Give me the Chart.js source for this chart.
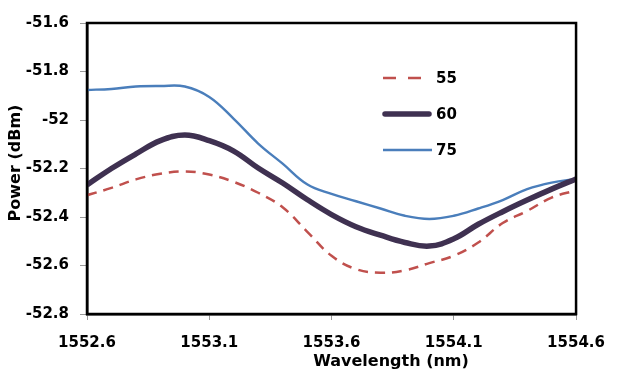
<!DOCTYPE html>
<html>
<head>
<meta charset="utf-8">
<script src="https://cdn.jsdelivr.net/npm/chart.js@4/dist/chart.umd.min.js"></script>
<style>
html,body{margin:0;padding:0;background:#fff;}
#wrap{width:619px;height:372px;position:relative;}
</style>
</head>
<body>
<div id="wrap"><canvas id="c" width="619" height="372"></canvas></div>
<script>
const wavelengths = [1552.6,1552.7,1552.8,1552.9,1553.0,1553.1,1553.2,1553.3,1553.4,1553.5,1553.6,1553.7,1553.8,1553.9,1554.0,1554.1,1554.2,1554.3,1554.4,1554.5,1554.6];
const power55 = [-52.31,-52.28,-52.245,-52.222,-52.212,-52.225,-52.255,-52.30,-52.36,-52.46,-52.56,-52.615,-52.63,-52.62,-52.59,-52.56,-52.505,-52.425,-52.375,-52.32,-52.29];
const power60 = [-52.268,-52.20,-52.14,-52.085,-52.062,-52.085,-52.128,-52.198,-52.26,-52.328,-52.39,-52.44,-52.475,-52.505,-52.52,-52.49,-52.43,-52.378,-52.33,-52.285,-52.243];
const power75 = [-51.876,-51.872,-51.862,-51.86,-51.862,-51.905,-51.995,-52.097,-52.18,-52.265,-52.305,-52.335,-52.365,-52.395,-52.408,-52.395,-52.365,-52.33,-52.285,-52.258,-52.243];
const seriesLabels = ['55','60','75'];
const xTicks = [1552.6,1553.1,1553.6,1554.1,1554.6];
const yTicks = [-51.6,-51.8,-52,-52.2,-52.4,-52.6,-52.8];
const xTitle = 'Wavelength (nm)';
const yTitle = 'Power (dBm)';

const FONT = '"DejaVu Sans", sans-serif';
const pts = arr => wavelengths.map((x,i)=>({x:x,y:arr[i]}));

const decor = {
  id:'decor',
  afterDraw(chart){
    const ctx = chart.ctx, a = chart.chartArea;
    ctx.save();
    ctx.strokeStyle = '#000';
    ctx.lineWidth = 2.5;
    ctx.strokeRect(a.left, a.top, a.right-a.left, a.bottom-a.top);
    // legend
    const ds = chart.data.datasets;
    const rows = [78,114,150];
    ds.forEach((d,i)=>{
      const y = rows[i];
      ctx.beginPath();
      ctx.strokeStyle = d.borderColor;
      ctx.lineWidth = d.borderWidth;
      ctx.setLineDash(i===0 ? [13,12] : []);
      ctx.lineCap = i===1 ? 'round':'butt';
      ctx.moveTo(i===1?385:383, y); ctx.lineTo(i===1?429:432, y);
      ctx.stroke();
      ctx.setLineDash([]);
      ctx.fillStyle = '#000';
      ctx.font = 'bold 15px ' + FONT;
      ctx.textAlign = 'left';
      ctx.textBaseline = 'middle';
      ctx.fillText(d.label, 436, y+1);
    });
    // axis titles
    ctx.fillStyle = '#000';
    ctx.font = 'bold 16px ' + FONT;
    ctx.textAlign = 'center';
    ctx.textBaseline = 'middle';
    ctx.fillText(xTitle, 391, 362);
    ctx.translate(16, 163);
    ctx.rotate(-Math.PI/2);
    ctx.fillText(yTitle, 0, 0);
    ctx.restore();
  }
};

new Chart(document.getElementById('c'), {
  type:'line',
  data:{
    datasets:[
      {label:seriesLabels[0], data:pts(power55), borderColor:'#C0504D', borderWidth:2.5, borderDash:[10,7], pointRadius:0, tension:0.4, fill:false},
      {label:seriesLabels[1], data:pts(power60), borderColor:'#3F3151', borderWidth:5.5, pointRadius:0, tension:0.4, fill:false},
      {label:seriesLabels[2], data:pts(power75), borderColor:'#4A7EBB', borderWidth:2.4, pointRadius:0, tension:0.4, fill:false}
    ]
  },
  options:{
    responsive:false,
    animation:false,
    layout:{padding:{top:23,right:35,left:0,bottom:0}},
    plugins:{legend:{display:false},tooltip:{enabled:false}},
    scales:{
      x:{
        type:'linear', min:1552.6, max:1554.6,
        afterBuildTicks(s){ s.ticks = xTicks.map(v=>({value:v})); },
        afterFit(s){ s.height = 58; },
        grid:{drawOnChartArea:false, tickLength:6, color:'#999', lineWidth:1},
        border:{color:'#000', width:2.5},
        ticks:{color:'#000', padding:14, maxRotation:0, autoSkip:false, font:{family:FONT, size:15, weight:'bold'}, callback:v=>String(Math.round(v*10)/10)}
      },
      y:{
        type:'linear', min:-52.8, max:-51.6,
        afterBuildTicks(s){ s.ticks = yTicks.map(v=>({value:v})); },
        afterFit(s){ s.width = 87; },
        grid:{drawOnChartArea:false, tickLength:7, color:'#999', lineWidth:1},
        border:{color:'#000', width:2.5},
        ticks:{color:'#000', padding:11, autoSkip:false, font:{family:FONT, size:15, weight:'bold'}, callback:v=>String(Math.round(v*10)/10)}
      }
    }
  },
  plugins:[decor]
});
</script>
</body>
</html>
